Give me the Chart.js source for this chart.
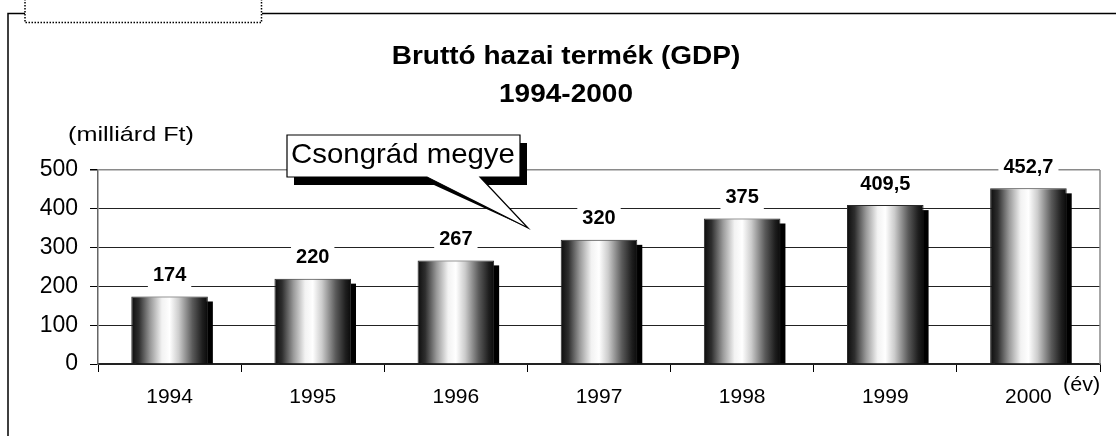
<!DOCTYPE html>
<html>
<head>
<meta charset="utf-8">
<script src="https://cdn.jsdelivr.net/npm/chart.js@4.4.1/dist/chart.umd.min.js"></script>
<style>
  html, body { margin: 0; padding: 0; background: #fff; }
</style>
</head>
<body>
<canvas id="gdpChart" width="1116" height="436"></canvas>
<script>
// data
const years = ["1994", "1995", "1996", "1997", "1998", "1999", "2000"];
const gdp = [174, 220, 267, 320, 375, 409.5, 452.7];
const yTicks = [0, 100, 200, 300, 400, 500];
const titleLines = ["Bruttó hazai termék (GDP)", "1994-2000"];
const unitText = "(milliárd Ft)";
const yearText = "(év)";
const calloutText = "Csongrád megye";

const barShare = 0.535;
const font = "Arial, 'Liberation Sans', sans-serif";
const huNum = v => String(v).replace(".", ",");

function cylinder(chart, i) {
  const xs = chart.scales.x;
  if (!chart.chartArea || !xs) return "#999";
  const cx = xs.getPixelForValue(i);
  const half = xs.width / years.length * barShare / 2;
  const g = chart.ctx.createLinearGradient(cx - half, 0, cx + half, 0);
  g.addColorStop(0, "#0c0c0c");
  g.addColorStop(0.1, "#2e2e2e");
  g.addColorStop(0.25, "#9a9a9a");
  g.addColorStop(0.4, "#f2f2f2");
  g.addColorStop(0.5, "#ffffff");
  g.addColorStop(0.62, "#cccccc");
  g.addColorStop(0.8, "#5a5a5a");
  g.addColorStop(0.93, "#1e1e1e");
  g.addColorStop(1, "#0a0a0a");
  return g;
}

// text stretched horizontally like the original picture
function wideText(c, txt, x, y, sx) {
  c.save();
  c.translate(x, y);
  c.scale(sx, 1);
  c.fillText(txt, 0, 0);
  c.restore();
}

// outer frame + dotted box in the corner, titles and axis captions
const decor = {
  id: "decor",
  beforeDraw(chart) {
    const c = chart.ctx;
    c.save();
    c.fillStyle = "#fff";
    c.fillRect(0, 0, chart.width, chart.height);
    c.strokeStyle = "#000";
    c.lineWidth = 1.5;
    c.beginPath();
    c.moveTo(8, 437); c.lineTo(8, 13.5); c.lineTo(25, 13.5);
    c.moveTo(262, 13.5); c.lineTo(1116, 13.5);
    c.stroke();
    c.setLineDash([1.5, 1.5]);
    c.beginPath();
    c.moveTo(25, -1); c.lineTo(25, 22.5); c.lineTo(261.5, 22.5); c.lineTo(261.5, -1);
    c.stroke();
    c.setLineDash([]);

    c.fillStyle = "#000";
    c.textAlign = "center";
    c.textBaseline = "middle";
    c.font = "bold 25px " + font;
    wideText(c, titleLines[0], 566, 57, 1.12);
    wideText(c, titleLines[1], 566, 95, 1.12);

    c.font = "21px " + font;
    c.textAlign = "left";
    wideText(c, unitText, 68, 135, 1.2);
    c.font = "20px " + font;
    wideText(c, yearText, 1063, 385, 1.08);
    c.restore();
  },
  beforeDatasetsDraw(chart) {
    const c = chart.ctx;
    const a = chart.chartArea;
    c.save();
    // right border of the plot area
    c.strokeStyle = "#8a8a8a";
    c.lineWidth = 1.5;
    c.beginPath();
    c.moveTo(a.right, a.top);
    c.lineTo(a.right, a.bottom);
    c.stroke();
    // bar shadows
    c.fillStyle = "#000";
    chart.getDatasetMeta(0).data.forEach(b => {
      const left = b.x - b.width / 2 + 5;
      c.fillRect(left, b.y + 5, b.width, b.base - b.y - 5);
    });
    c.restore();
  },
  afterDatasetsDraw(chart) {
    const c = chart.ctx;
    c.save();
    c.font = "bold 20px " + font;
    c.textAlign = "center";
    c.textBaseline = "middle";
    chart.getDatasetMeta(0).data.forEach((b, i) => {
      const txt = huNum(gdp[i]);
      const w = c.measureText(txt).width + 10;
      const cy = b.y - 21;
      c.fillStyle = "#fff";
      c.fillRect(b.x - w / 2, cy - 13, w, 27);
      c.fillStyle = "#000";
      c.fillText(txt, b.x, cy);
    });

    // callout with shadow
    const box = { l: 287, t: 135, r: 520, b: 177 };
    const tip = { x: 528, y: 228 };
    const shape = (dx, dy, tx, ty) => {
      c.beginPath();
      c.moveTo(box.l + dx, box.t + dy);
      c.lineTo(box.r + dx, box.t + dy);
      c.lineTo(box.r + dx, box.b + dy);
      c.lineTo(480 + dx, box.b + dy);
      c.lineTo(tx, ty);
      c.lineTo(427 + dx, box.b + dy);
      c.lineTo(box.l + dx, box.b + dy);
      c.closePath();
    };
    c.fillStyle = "#000";
    shape(7, 8, tip.x, tip.y);
    c.fill();
    c.fillStyle = "#fff";
    c.strokeStyle = "#000";
    c.lineWidth = 1.2;
    shape(0, 0, tip.x, tip.y);
    c.fill();
    c.stroke();
    c.fillStyle = "#000";
    c.font = "28px " + font;
    c.textAlign = "left";
    c.textBaseline = "alphabetic";
    wideText(c, calloutText, 291, 163, 1.05);
    c.restore();
  }
};

new Chart(document.getElementById("gdpChart"), {
  type: "bar",
  data: {
    labels: years,
    datasets: [{
      data: gdp,
      backgroundColor: ctx => cylinder(ctx.chart, ctx.dataIndex),
      borderColor: "#2a2a2a",
      borderWidth: 1,
      categoryPercentage: 1,
      barPercentage: barShare
    }]
  },
  options: {
    responsive: false,
    animation: false,
    events: [],
    layout: { padding: { top: 170, right: 16, bottom: 30, left: 0 } },
    plugins: {
      legend: { display: false },
      tooltip: { enabled: false },
      title: { display: false }
    },
    scales: {
      x: {
        afterFit: s => { s.height = 42; },
        grid: {
          offset: true,
          drawOnChartArea: false,
          drawTicks: true,
          tickLength: 8,
          tickColor: "#000"
        },
        border: { color: "#222", width: 1.5 },
        ticks: {
          color: "#000",
          font: { family: font, size: 21 },
          padding: 13
        }
      },
      y: {
        min: 0,
        max: 500,
        afterFit: s => { s.width = 98; },
        afterBuildTicks: s => { s.ticks = yTicks.map(v => ({ value: v })); },
        grid: {
          color: ctx => ctx.tick && ctx.tick.value === 500 ? "#8a8a8a" : "#222",
          lineWidth: ctx => ctx.tick && ctx.tick.value === 500 ? 1.5 : 1,
          tickColor: "#000",
          tickLength: 8
        },
        border: { color: "#666", width: 1.5 },
        ticks: {
          color: "#000",
          font: { family: font, size: 23 },
          padding: 12
        }
      }
    }
  },
  plugins: [decor]
});
</script>
</body>
</html>
